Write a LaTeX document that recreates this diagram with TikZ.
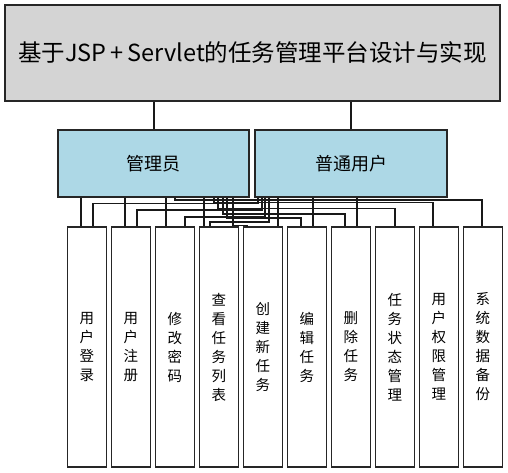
\documentclass[tikz,border=0pt]{standalone}
\usepackage{fontspec}
\setmainfont{Noto Sans CJK SC}
\begin{document}
\begin{tikzpicture}[x=1pt,y=-1pt,
  box/.style={draw=black!85,line width=1.3pt,inner sep=0pt,anchor=center},
  titlebox/.style={box,fill=black!17,minimum width=495pt,minimum height=96pt,font=\fontsize{23.5}{27}\selectfont},
  leaf/.style={box,fill=white,minimum width=38.5pt,minimum height=240pt,align=center,font=\fontsize{14.5}{19}\selectfont},
  conn/.style={draw=black!90,line width=1.2pt}]
\definecolor{lightblue}{RGB}{173,216,230}
\tikzset{rolebox/.style={box,fill=lightblue,minimum height=67pt,font=\fontsize{18}{20}\selectfont}}
\useasboundingbox (0,0) rectangle (508,473);
\node[titlebox] (title) at (252.5,53) {基于JSP\,+\,Servlet的任务管理平台设计与实现};
\node[rolebox,minimum width=191pt] (admin) at (153.5,163.5) {管理员};
\node[rolebox,minimum width=192pt] (user) at (351,163.5) {普通用户};
\foreach \i/\t [count=\k from 0] in {b1/用\\户\\登\\录, b2/用\\户\\注\\册, b3/修\\改\\密\\码, b4/查\\看\\任\\务\\列\\表, b5/创\\建\\新\\任\\务, b6/编\\辑\\任\\务, b7/删\\除\\任\\务, b8/任\\务\\状\\态\\管\\理, b9/用\\户\\权\\限\\管\\理, b10/系\\统\\数\\据\\备\\份}
  \node[leaf] (\i) at ({86.95+44*\k},347) {\t};
\draw[conn] (title.south -| 154,0) -- (admin.north -| 154,0);
\draw[conn] (title.south -| 351,0) -- (user.north -| 351,0);
% straight connectors
\foreach \p/\c/\x in {admin/b1/81, admin/b2/125, admin/b3/166, admin/b4/204, user/b5/278, user/b6/313, user/b7/357}
  \draw[conn] (\p.south -| \x,0) -- (\c.north -| \x,0);
% elbow connectors: parent, child, exit x, level y, landing x
\foreach \p/\c/\x/\y/\z in {admin/b10/175/200/482, admin/b9/214/202.5/433, admin/b8/218/208.5/395, admin/b7/223/214/345, admin/b6/227/218/301, admin/b5/233/225.5/247, user/b1/258/203.5/93, user/b2/262/210/137, user/b3/265/217/185, user/b4/269/222/210}
  \draw[conn] (\p.south -| \x,0) -- (\x,\y) -| (\c.north -| \z,0);
\end{tikzpicture}
\end{document}
